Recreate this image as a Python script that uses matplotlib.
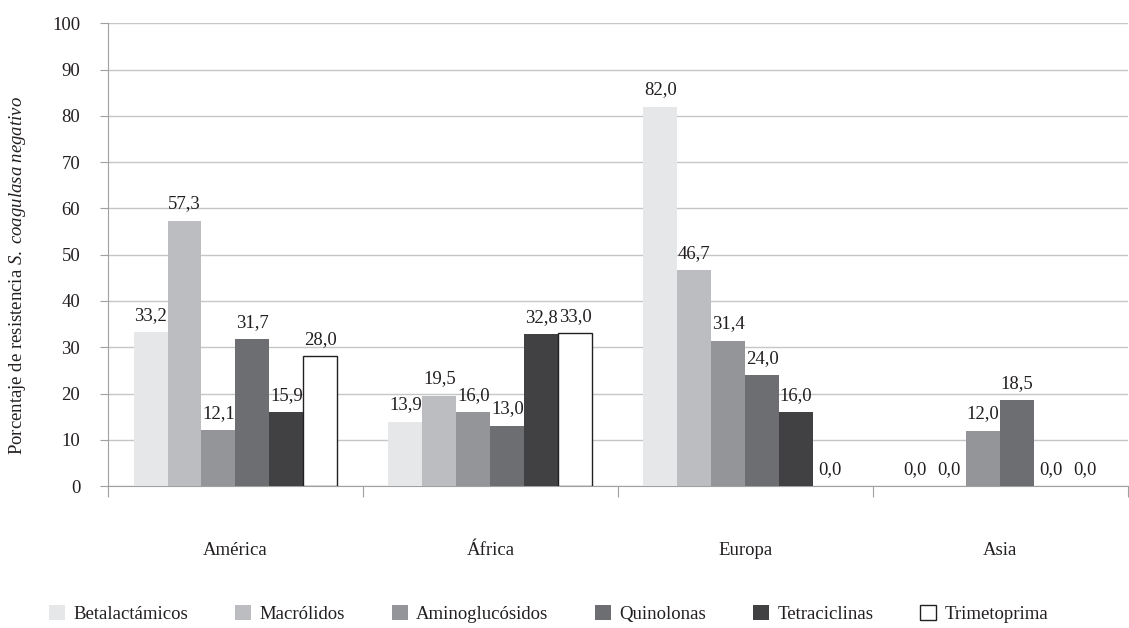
import numpy as np
import matplotlib
matplotlib.use('Agg')
import matplotlib.pyplot as plt

# Data
regions = ['América', 'África', 'Europa', 'Asia']
antibiotics = ['Betalactámicos', 'Macrólidos', 'Aminoglucósidos',
               'Quinolonas', 'Tetraciclinas', 'Trimetoprima']
betalactamicos = [33.2, 13.9, 82.0, 0.0]
macrolidos = [57.3, 19.5, 46.7, 0.0]
aminoglucosidos = [12.1, 16.0, 31.4, 12.0]
quinolonas = [31.7, 13.0, 24.0, 18.5]
tetraciclinas = [15.9, 32.8, 16.0, 0.0]
trimetoprima = [28.0, 33.0, 0.0, 0.0]
series = [betalactamicos, macrolidos, aminoglucosidos,
          quinolonas, tetraciclinas, trimetoprima]

colors = ['#e6e7e8', '#bcbdc0', '#939598', '#6d6e71', '#414042', '#ffffff']
edges = [None, None, None, None, None, '#231f20']
FS = 13.5
TXT = '#231f20'

plt.rcParams['font.family'] = ['Liberation Serif', 'DejaVu Serif']
plt.rcParams['mathtext.fontset'] = 'custom'
plt.rcParams['mathtext.rm'] = 'Liberation Serif'
plt.rcParams['mathtext.it'] = 'Liberation Serif:italic'

fig = plt.figure(figsize=(11.29, 6.28), dpi=100)
ax = fig.add_axes([0.0957, 0.226, 0.903, 0.737])

x = np.arange(len(regions))
width = 0.8 / len(series)
for i, (name, vals) in enumerate(zip(antibiotics, series)):
    pos = x - 0.4 + width * (i + 0.5)
    kw = dict(color=colors[i], label=name, zorder=3)
    if edges[i]:
        kw.update(edgecolor=edges[i], linewidth=1)
    bars = ax.bar(pos, vals, width, **kw)
    for b, v in zip(bars, vals):
        if v == 0:
            b.set_linewidth(0)
        ax.annotate(f'{v:.1f}'.replace('.', ','),
                    (b.get_x() + b.get_width() / 2, v),
                    xytext=(0, 6), textcoords='offset points',
                    ha='center', va='bottom', fontsize=FS, color=TXT)

ax.set_ylim(0, 100)
ax.set_yticks(range(0, 101, 10))
ax.set_xlim(-0.5, 3.5)
ax.set_xticks(np.arange(-0.5, 3.6, 1))
ax.set_xticklabels([])
ax.set_xticks(x, minor=True)
ax.set_xticklabels(regions, minor=True)
ax.tick_params(axis='x', which='major', length=8, color='#a0a0a0')
ax.tick_params(axis='x', which='minor', length=0, pad=40, labelsize=FS,
               labelcolor=TXT)
ax.tick_params(axis='y', length=6, color='#a0a0a0', labelsize=FS,
               labelcolor=TXT, pad=14)
ax.grid(axis='y', color='#c6c6c6', linewidth=1, zorder=0)
for s in ['top', 'right']:
    ax.spines[s].set_visible(False)
for s in ['left', 'bottom']:
    ax.spines[s].set_color('#a0a0a0')

ax.set_ylabel(r'Porcentaje de resistencia $\mathit{S.\ coagulasa\ negativo}$',
              fontsize=FS, color=TXT)
ax.yaxis.set_label_coords(-0.079, 0.454)

fig.legend(loc='center', bbox_to_anchor=(0.486, 0.022), ncol=6, frameon=False,
           fontsize=FS, handlelength=0.85, handleheight=0.85, handletextpad=0.45,
           columnspacing=2.5, labelcolor=TXT)

fig.savefig('out.png', dpi=100)
